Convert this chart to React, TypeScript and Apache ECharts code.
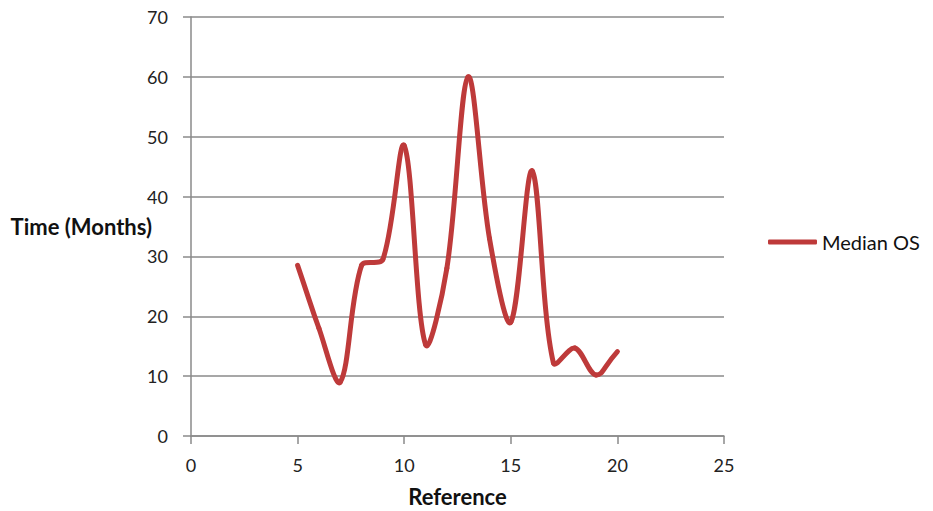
import React, { useEffect, useRef } from "react";
import * as echarts from "echarts";

const references = [5, 6, 7, 8, 9, 10, 11, 12, 13, 14, 15, 16, 17, 18, 19, 20];
const medianOS = [28.5, 18, 9, 28.5, 29.5, 48.5, 15.3, 28, 60, 33, 19, 44.3, 12.2, 14.7, 10.2, 14.1];
const seriesName = "Median OS";
const xTitle = "Reference";
const yTitle = "Time (Months)";

const FONT = "Lato, 'Open Sans', sans-serif";
const RED = "#BE3A3A";
const GRID = "#8a8a8a";

export default function App() {
  const ref = useRef<HTMLDivElement>(null);
  useEffect(() => {
    document.body.style.margin = "0";
    const chart = echarts.init(ref.current!, undefined, { renderer: "svg" });
    const points = references.map((x, i) => [x, medianOS[i]]);
    const n = points.length;
    chart.setOption({
      animation: false,
      backgroundColor: "#ffffff",
      textStyle: { fontFamily: FONT },
      grid: {
        left: 191,
        top: 17,
        right: 209,
        bottom: 75,
        containLabel: false,
        outerBoundsMode: "none",
      },
      legend: {
        left: 763,
        top: 227,
        itemWidth: 49,
        itemHeight: 5,
        icon: "roundRect",
        itemStyle: { color: RED },
        textStyle: { fontSize: 20, color: "#111", fontFamily: FONT },
        data: [seriesName],
      },
      xAxis: {
        type: "value",
        min: 0,
        max: 25,
        interval: 5,
        name: xTitle,
        nameLocation: "middle",
        nameGap: 49,
        nameMoveOverlap: false,
        nameTextStyle: { fontSize: 22, fontWeight: "bold", color: "#111", fontFamily: FONT },
        axisLine: { show: true, onZero: false, lineStyle: { color: GRID, width: 1.5 } },
        axisTick: { show: true, length: 8, lineStyle: { color: GRID, width: 1.5 } },
        axisLabel: { fontSize: 18, color: "#222", margin: 20, fontFamily: FONT },
        splitLine: { show: false },
      },
      yAxis: {
        type: "value",
        min: 0,
        max: 70,
        interval: 10,
        name: yTitle,
        nameLocation: "middle",
        nameRotate: 0,
        nameGap: 39,
        nameMoveOverlap: false,
        nameTextStyle: {
          fontSize: 22,
          fontWeight: "bold",
          color: "#111",
          fontFamily: FONT,
          padding: [0, 0, 10, 0],
        },
        axisLine: { show: true, lineStyle: { color: GRID, width: 1.5 } },
        axisTick: { show: true, length: 8, lineStyle: { color: GRID, width: 1.5 } },
        axisLabel: { fontSize: 18, color: "#222", margin: 23, fontFamily: FONT },
        splitLine: { show: true, lineStyle: { color: GRID, width: 1.5 } },
      },
      series: [
        {
          name: seriesName,
          type: "custom",
          itemStyle: { color: RED },
          encode: { x: 0, y: 1 },
          data: points,
          renderItem: (params: any, api: any) => {
            const i = params.dataIndex;
            if (i >= n - 1) return null;
            const c = (k: number) => {
              const kk = Math.max(0, Math.min(n - 1, k));
              return api.coord(points[kk]);
            };
            const dist = (a: number[], b: number[]) => Math.hypot(a[0] - b[0], a[1] - b[1]);
            const p0 = c(i - 1);
            const p1 = c(i);
            const p2 = c(i + 1);
            const p3 = c(i + 2);
            const d01 = dist(p0, p1);
            const d12 = dist(p1, p2);
            const d23 = dist(p2, p3);
            const s = 1 / 3;
            const f1 = d01 + d12 > 0 ? (s * d12) / (d01 + d12) : 0;
            const f2 = d12 + d23 > 0 ? (s * d12) / (d12 + d23) : 0;
            const g1 = i === 0 ? f1 * 2 : f1;
            const g2 = i === n - 2 ? f2 * 2 : f2;
            return {
              type: "bezierCurve",
              shape: {
                x1: p1[0],
                y1: p1[1],
                cpx1: p1[0] + (p2[0] - p0[0]) * g1,
                cpy1: p1[1] + (p2[1] - p0[1]) * g1,
                cpx2: p2[0] - (p3[0] - p1[0]) * g2,
                cpy2: p2[1] - (p3[1] - p1[1]) * g2,
                x2: p2[0],
                y2: p2[1],
              },
              style: { stroke: RED, lineWidth: 5, fill: "none", lineCap: "round" },
            };
          },
        },
      ],
    });
    return () => chart.dispose();
  }, []);
  return <div ref={ref} style={{ width: 933, height: 511 }} />;
}
